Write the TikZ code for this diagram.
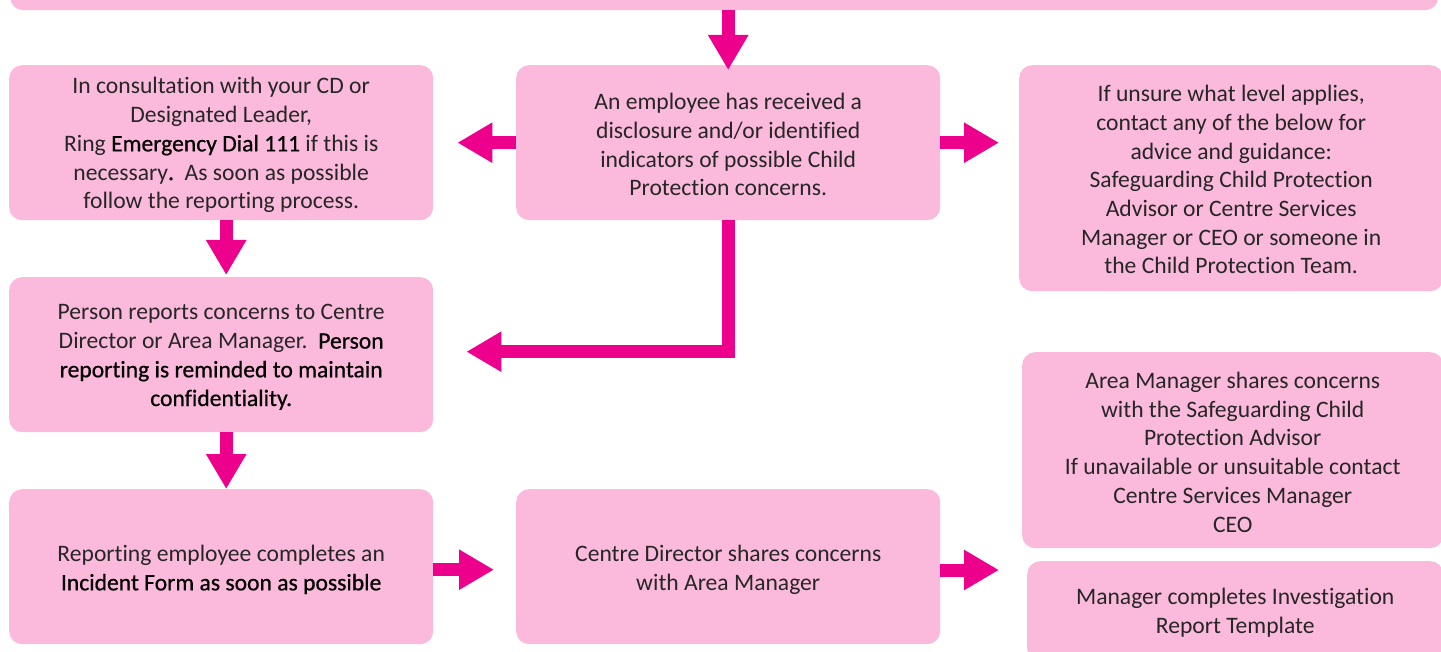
\documentclass[tikz,border=0pt]{standalone}
\usepackage{fontspec}
\setmainfont{Carlito}[Ligatures={NoCommon}]
\newfontfamily\strongfont{Carlito}[FakeBold=0.6,Ligatures={NoCommon}]
\usetikzlibrary{arrows.meta}
\definecolor{boxpink}{HTML}{FBBADB}
\definecolor{arrmag}{HTML}{EC008C}
\definecolor{txt}{HTML}{262626}
\newcommand\emtxt[1]{{\strongfont\color{black}#1}}
\begin{document}
\begin{tikzpicture}[x=1pt,y=-1pt,
  box/.style={fill=boxpink, rounded corners=13pt, inner sep=0pt, anchor=north west},
  boxtext/.style={inner sep=0pt, align=center, text=txt,
    font=\fontsize{23.6}{28.7}\selectfont},
  arr/.style={draw=arrmag, line width=13pt, line join=miter,
    -{Triangle[width=38pt,length=35pt]}}]
\useasboundingbox (0,0) rectangle (1441,652);

\node[box, minimum width=1428pt, minimum height=80pt] (top) at (10,-70) {};

\node[box, minimum width=424pt, minimum height=155pt] (A) at (9,65) {};
\node[boxtext] (At) at ([yshift=-2.5pt]A.center)
  {In consultation with your CD or\\Designated Leader,\\Ring \emtxt{Emergency Dial 111} if this is\\necessary\emtxt{.}\ \ As soon as possible\\follow the reporting process.};
\node[box, minimum width=424pt, minimum height=155pt] (B) at (516,65) {};
\node[boxtext] (Bt) at ([yshift=-2pt]B.center)
  {An employee has received a\\disclosure and/or identified\\indicators of possible Child\\Protection concerns.};
\node[box, minimum width=424pt, minimum height=226pt] (C) at (1019,65) {};
\node[boxtext] (Ct) at ([yshift=-1.5pt]C.center)
  {If unsure what level applies,\\contact any of the below for\\advice and guidance:\\Safeguarding Child Protection\\Advisor or Centre Services\\Manager or CEO or someone in\\the Child Protection Team.};
\node[box, minimum width=424pt, minimum height=155pt] (D) at (9,277) {};
\node[boxtext] (Dt) at ([yshift=-2.5pt]D.center)
  {Person reports concerns to Centre\\Director or Area Manager.\ \ \emtxt{Person}\\\emtxt{reporting is reminded to maintain}\\\emtxt{confidentiality.}};
\node[box, minimum width=424pt, minimum height=155pt] (E) at (9,489) {};
\node[boxtext] (Et) at ([yshift=-3pt]E.center)
  {Reporting employee completes an\\\emtxt{Incident Form as soon as possible}};
\node[box, minimum width=424pt, minimum height=155pt] (F) at (516,489) {};
\node[boxtext] (Ft) at ([yshift=-3pt]F.center)
  {Centre Director shares concerns\\with Area Manager};
\node[box, minimum width=421pt, minimum height=196pt] (G) at (1022,352) {};
\node[boxtext] (Gt) at ([yshift=-2pt]G.center)
  {Area Manager shares concerns\\with the Safeguarding Child\\Protection Advisor\\If unavailable or unsuitable contact\\Centre Services Manager\\CEO};
\node[box, minimum width=416pt, minimum height=100pt] (H) at (1027,561) {};
\node[boxtext] (Ht) at ([yshift=-1.5pt]H.center)
  {Manager completes Investigation\\Report Template};

\coordinate (gh) at (999,570);

\draw[arr] (top.south -| B.north) -- ([yshift=-5pt]B.north);
\draw[arr] (B.west) -- ([xshift=24pt]A.east);
\draw[arr] (B.east) -- ([xshift=-20pt]C.west |- B.east);
\draw[arr] (B.south) |- ([xshift=33pt,yshift=3pt]D.east);
\draw[arr] ([xshift=5pt]A.south) -- ([xshift=5pt,yshift=2pt]D.north);
\draw[arr] ([xshift=5pt]D.south) -- ([xshift=5pt]E.north);
\draw[arr] ([yshift=-3pt]E.east) -- ([xshift=-22pt,yshift=-3pt]F.west);
\draw[arr] (F.east |- gh) -- (gh);
\end{tikzpicture}
\end{document}
